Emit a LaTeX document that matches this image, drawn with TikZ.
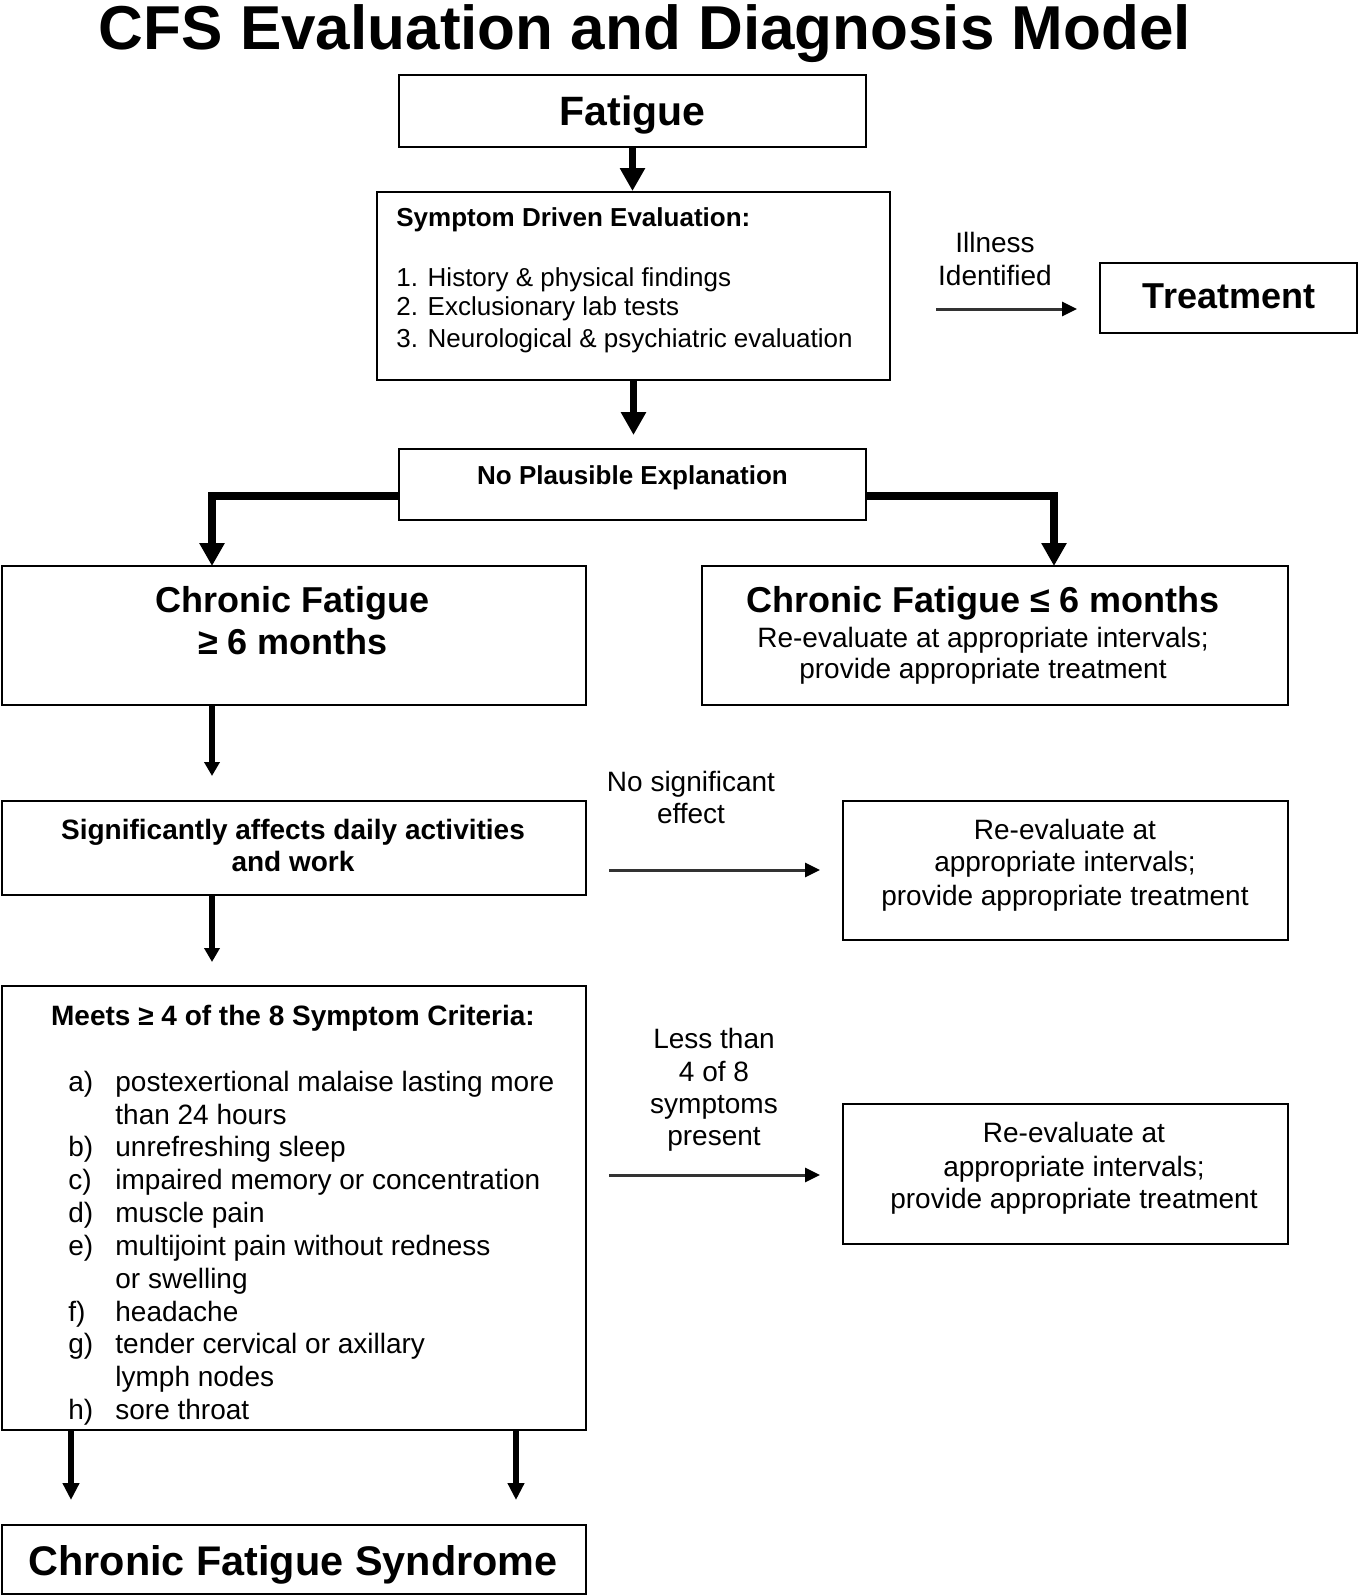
\documentclass[tikz,border=0pt]{standalone}
\usepackage{fontspec}
\setmainfont{Liberation Sans}
\usetikzlibrary{arrows.meta,calc}
\newcommand{\fz}[1]{\fontsize{#1}{#1}\selectfont}
\begin{document}
\begin{tikzpicture}[x=0.5pt,y=-0.5pt,
  bx/.style={draw,line width=1pt,inner sep=0pt,rectangle},
  tx/.style={anchor=base,inner sep=0pt},
  txl/.style={anchor=base west,inner sep=0pt},
  big/.style={line width=3.8pt,-{Triangle[length=11.5pt,width=12pt]}},
  med/.style={line width=2.6pt,-{Triangle[length=7pt,width=7.5pt]}},
  hor/.style={line width=1.5pt,black!80,-{Triangle[length=7.5pt,width=7pt,color=black]}},
  fin/.style={line width=2.8pt,-{Triangle[length=8.5pt,width=8pt]}},
  r14/.style={tx,font=\fz{14}},
  b14/.style={tx,font=\bfseries\fz{14}},
  b18/.style={tx,font=\bfseries\fz{18}}
]
\fill[white] (0,0) rectangle (1358,1596);
\useasboundingbox (0,0) rectangle (1358,1596);

% title
\node[tx,font=\bfseries\fz{31}] (title) at (645,49) {CFS Evaluation and Diagnosis Model};

% Fatigue
\node[bx,minimum width=233.5pt,minimum height=36pt] (fat) at (632.5,111) {};
\node[tx,font=\bfseries\fz{20.5}] (fatT) at (632.5,125) {Fatigue};

% Symptom driven evaluation
\node[bx,minimum width=256.5pt,minimum height=94pt] (sde) at (633.5,286) {};
\node[txl,font=\bfseries\fz{13}] (sdeH) at (396,226) {Symptom Driven Evaluation:};
\node[txl,font=\fz{13}] (sde1) at (396,286) {1. History \& physical findings};
\node[txl,font=\fz{13}] (sde2) at (396,315) {2. Exclusionary lab tests};
\node[txl,font=\fz{13}] (sde3) at (396,347) {3. Neurological \& psychiatric evaluation};

% Treatment
\node[bx,minimum width=128.5pt,minimum height=35pt] (trt) at (1228.5,298) {};
\node[b18] (trtT) at (1229,308) {Treatment};
\node[r14] (ill1) at (995,252) {Illness};
\node[r14] (ill2) at (995,285) {Identified};
\coordinate (i1) at (936,309);
\coordinate (i2) at (1077,309);
\draw[hor] (i1) -- (i2);

% No plausible explanation
\node[bx,minimum width=233.5pt,minimum height=35.5pt] (npe) at (632.5,484.5) {};
\node[tx,font=\bfseries\fz{13}] (npeT) at (632.5,484) {No Plausible Explanation};

\draw[big] (fat.south) -- (fat.south |- sde.north);
\draw[big,shorten >=6.5pt] (sde.south) -- (sde.south |- npe.north);

% chronic fatigue boxes
\node[bx,minimum width=292pt,minimum height=69.5pt] (cfa) at (294,635.5) {};
\node[b18] (cfa1) at (293,612) {Chronic Fatigue};
\node[b18] (cfa2) at (293,654) {≥ 6 months};
\node[bx,minimum width=293pt,minimum height=69.5pt] (cfb) at (995,635.5) {};
\node[b18] (cfb1) at (983,612) {Chronic Fatigue ≤ 6 months};
\node[r14] (cfb2) at (983,647) {Re-evaluate at appropriate intervals;};
\node[r14] (cfb3) at (983,678) {provide appropriate treatment};

\coordinate (bl) at (212,566);
\coordinate (br) at (1054,566);
\draw[big] ($(npe.west)+(0,11.5)$) -| (bl);
\draw[big] ($(npe.east)+(0,11.5)$) -| (br);

% significantly affects
\coordinate (a1) at (212,776);
\draw[med] (cfa.south -| a1) -- (a1);
\node[bx,minimum width=292pt,minimum height=47pt] (sad) at (294,848) {};
\node[b14] (sad1) at (293,839) {Significantly affects daily activities};
\node[b14] (sad2) at (293,871) {and work};
\node[r14] (ns1) at (691,791) {No significant};
\node[r14] (ns2) at (691,823) {effect};
\coordinate (h1s) at (609,870);
\coordinate (h1e) at (820,870);
\draw[hor] (h1s) -- (h1e);
\node[bx,minimum width=222.5pt,minimum height=69.5pt] (re1) at (1065.5,870.5) {};
\node[r14] (re1a) at (1065,839) {Re-evaluate at};
\node[r14] (re1b) at (1065,871) {appropriate intervals;};
\node[r14] (re1c) at (1065,905) {provide appropriate treatment};

% meets criteria
\coordinate (a2) at (212,962);
\draw[med] (sad.south -| a2) -- (a2);
\node[bx,minimum width=292pt,minimum height=222pt] (mts) at (294,1208) {};
\node[b14] (mtsH) at (293,1025) {Meets ≥ 4 of the 8 Symptom Criteria:};
\foreach \y/\l/\t [count=\i] in {
  1091/a)/postexertional malaise lasting more,
  1124//than 24 hours,
  1156/b)/unrefreshing sleep,
  1189/c)/impaired memory or concentration,
  1222/d)/muscle pain,
  1255/e)/multijoint pain without redness,
  1288//or swelling,
  1321/f)/headache,
  1353/g)/tender cervical or axillary,
  1386//lymph nodes,
  1419/h)/sore throat}{
  \node[txl,font=\fz{14}] (ml\i) at (68,\y) {\l};
  \node[txl,font=\fz{14}] (mt\i) at (115,\y) {\t};
}
\node[r14] (lt1) at (714,1048) {Less than};
\node[r14] (lt2) at (714,1081) {4 of 8};
\node[r14] (lt3) at (714,1113) {symptoms};
\node[r14] (lt4) at (714,1145) {present};
\coordinate (h2s) at (609,1175);
\coordinate (h2e) at (820,1175);
\draw[hor] (h2s) -- (h2e);
\node[bx,minimum width=222.5pt,minimum height=70pt] (re2) at (1065.5,1174) {};
\node[r14] (re2a) at (1074,1142) {Re-evaluate at};
\node[r14] (re2b) at (1074,1176) {appropriate intervals;};
\node[r14] (re2c) at (1074,1208) {provide appropriate treatment};

% CFS
\coordinate (c1) at (71,1500);
\coordinate (c2) at (516,1500);
\draw[fin] (mts.south -| c1) -- (c1);
\draw[fin] (mts.south -| c2) -- (c2);
\node[bx,minimum width=292pt,minimum height=34.5pt] (cfs) at (294,1559.5) {};
\node[tx,font=\bfseries\fz{20.7}] (cfsT) at (293,1575) {Chronic Fatigue Syndrome};
\end{tikzpicture}
\end{document}
